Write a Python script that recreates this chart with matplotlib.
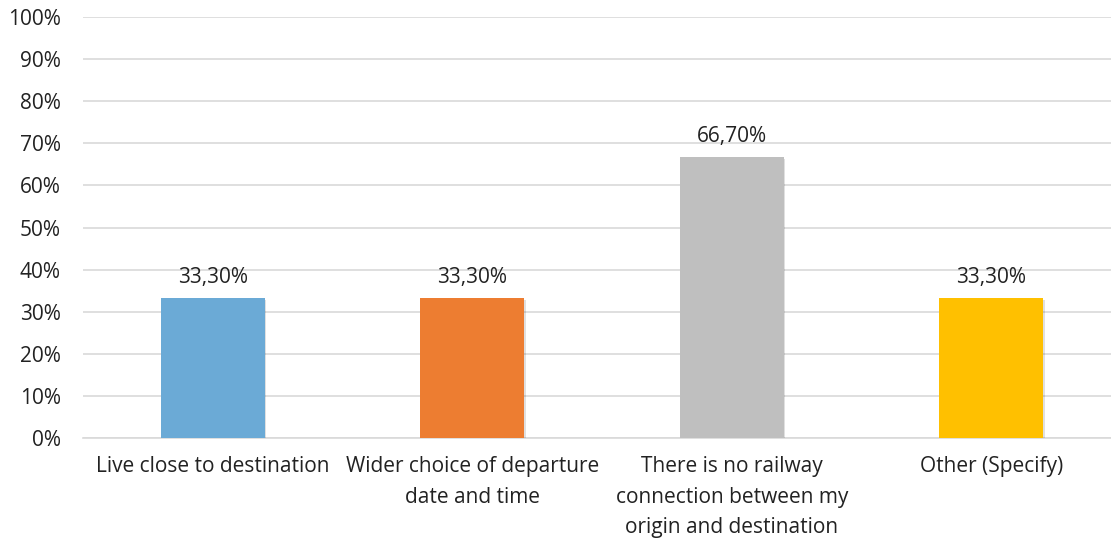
import matplotlib.pyplot as plt
import matplotlib.patheffects as pe
from matplotlib.ticker import MultipleLocator, PercentFormatter

plt.rcParams['font.family'] = ['Open Sans', 'DejaVu Sans']

categories = ["Live close to destination",
              "Wider choice of departure\ndate and time",
              "There is no railway\nconnection between my\norigin and destination",
              "Other (Specify)"]
values = [33.3, 33.3, 66.7, 33.3]
value_labels = ["33,30%", "33,30%", "66,70%", "33,30%"]
colors = ["#6BAAD6", "#ED7D31", "#BFBFBF", "#FFC000"]

fs = 15
fig = plt.figure(figsize=(11.11, 5.39), dpi=100)
ax = fig.add_axes([83 / 1111, 101 / 539, 1038 / 1111, 421 / 539])

x = range(len(categories))
bars = ax.bar(x, values, width=0.4, color=colors, zorder=3)
for b in bars:
    b.set_path_effects([pe.SimplePatchShadow(offset=(1, -1.5), shadow_rgbFace='#000000', alpha=0.12),
                        pe.Normal()])

for xi, v, lab in zip(x, values, value_labels):
    ax.annotate(lab, (xi, v), xytext=(0, 7), textcoords='offset points',
                ha='center', va='bottom', fontsize=fs, color='#222222')

ax.set_xlim(-0.5, len(categories) - 0.5)
ax.set_ylim(0, 100)
ax.yaxis.set_major_locator(MultipleLocator(10))
ax.yaxis.set_major_formatter(PercentFormatter(decimals=0))
ax.grid(axis='y', color='#D9D9D9', linewidth=1.2, zorder=0)
ax.set_xticks(list(x))
ax.set_xticklabels(categories, fontsize=fs, color='#222222', linespacing=1.6)
ax.tick_params(axis='y', labelsize=fs, labelcolor='#222222', length=0, pad=16)
ax.tick_params(axis='x', length=0, pad=13)
for s in ['top', 'right', 'left']:
    ax.spines[s].set_visible(False)
ax.spines['bottom'].set_color('#D9D9D9')
ax.spines['bottom'].set_linewidth(1.2)

fig.savefig('out.png', dpi=100)
